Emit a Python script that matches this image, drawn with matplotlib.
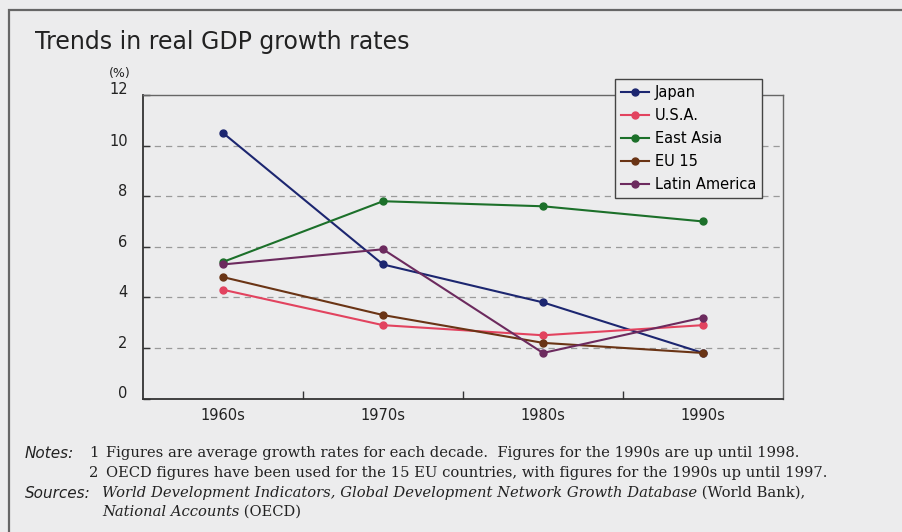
import numpy as np
import matplotlib.pyplot as plt
from matplotlib.patches import Rectangle

# Data (average growth per decade, %)
decades = ['1960s', '1970s', '1980s', '1990s']
japan = [10.5, 5.3, 3.8, 1.8]
usa = [4.3, 2.9, 2.5, 2.9]
east_asia = [5.4, 7.8, 7.6, 7.0]
eu15 = [4.8, 3.3, 2.2, 1.8]
latin_america = [5.3, 5.9, 1.8, 3.2]

series = [
    ('Japan', japan, '#1c2670'),
    ('U.S.A.', usa, '#e2435f'),
    ('East Asia', east_asia, '#1c702a'),
    ('EU 15', eu15, '#6a3415'),
    ('Latin America', latin_america, '#6c2a5e'),
]

W, H = 903, 532
bg = '#ececed'
ink = '#222222'
fig = plt.figure(figsize=(W / 100, H / 100), dpi=100, facecolor=bg)
ax = fig.add_axes([143 / W, 1 - 398.5 / H, 640 / W, 303.5 / H])
ax.set_facecolor(bg)

x = np.arange(len(decades))
for name, vals, col in series:
    ax.plot(x, vals, color=col, lw=1.5, marker='o', ms=5, label=name, zorder=3)

ax.set_xlim(-0.5, 3.5)
ax.set_ylim(0, 12)
ax.set_yticks([0, 2, 4, 6, 8, 10, 12])
ax.set_yticklabels(['0', '2', '4', '6', '8', '10', ''])
ax.set_xticks([0.5, 1.5, 2.5])
ax.set_xticklabels([])
ax.set_xticks(x, minor=True)
ax.set_xticklabels(decades, minor=True)
ax.tick_params(axis='x', which='major', direction='in', length=6, width=1, color='#333333')
ax.tick_params(axis='x', which='minor', length=0, pad=7, labelsize=10.5, labelcolor=ink)
ax.tick_params(axis='y', direction='in', length=5, width=1, color='#333333',
               pad=11, labelsize=10.5, labelcolor=ink)
for lbl in ax.get_yticklabels():
    lbl.set_verticalalignment('baseline')

for yv in [2, 4, 6, 8, 10]:
    ax.axhline(yv, color='#9a9a9a', lw=0.9, ls=(0, (5, 4)), zorder=1)

for side in ['left', 'bottom']:
    ax.spines[side].set_color('#333333')
    ax.spines[side].set_linewidth(1.3)
for side in ['top', 'right']:
    ax.spines[side].set_color('#666666')
    ax.spines[side].set_linewidth(1.0)

leg = fig.legend(*ax.get_legend_handles_labels(), loc='upper left',
                 bbox_to_anchor=(615 / W, 1 - 79 / H),
                 frameon=True, fancybox=False, fontsize=10.5, handlelength=1.9,
                 handletextpad=0.4, borderpad=0.42, borderaxespad=0, labelspacing=0.55,
                 facecolor=bg, edgecolor='#444444', framealpha=1)
leg.get_frame().set_linewidth(1.0)

# outer frame
fig.patches.append(Rectangle((9 / W, -0.1), 1.2, 1 - 10 / H + 0.1,
                             transform=fig.transFigure, fill=False,
                             edgecolor='#666666', lw=1.6))

fig.text(35 / W, 1 - 42 / H, 'Trends in real GDP growth rates', fontsize=17,
         color=ink, va='center', ha='left')
fig.text(120 / W, 1 - 73 / H, '(%)', fontsize=9, color=ink, ha='center', va='center')
fig.text(128 / W, 1 - 89 / H, '12', fontsize=10.5, color=ink, ha='right', va='center')

# notes and sources
serif = 'DejaVu Serif'
fs = 10.6
renderer = fig.canvas.get_renderer()


def put_line(x_px, y_px, segs):
    xc = x_px
    for s, italic in segs:
        t = fig.text(xc / W, 1 - y_px / H, s, family=serif, fontsize=fs, color=ink,
                     style='italic' if italic else 'normal', va='center')
        xc = t.get_window_extent(renderer).x1


fig.text(25 / W, 1 - 453 / H, 'Notes:', fontsize=11, style='italic', color=ink, va='center')
put_line(89, 453, [('1', False)])
put_line(106, 453, [('Figures are average growth rates for each decade.  '
                     'Figures for the 1990s are up until 1998.', False)])
put_line(89, 473, [('2', False)])
put_line(106, 473, [('OECD figures have been used for the 15 EU countries, '
                     'with figures for the 1990s up until 1997.', False)])
fig.text(25 / W, 1 - 493 / H, 'Sources:', fontsize=11, style='italic', color=ink, va='center')
put_line(102, 493, [('World Development Indicators, Global Development Network Growth Database', True),
                    (' (World Bank),', False)])
put_line(102, 512, [('National Accounts', True), (' (OECD)', False)])

fig.savefig('out.png', dpi=100, facecolor=bg)
